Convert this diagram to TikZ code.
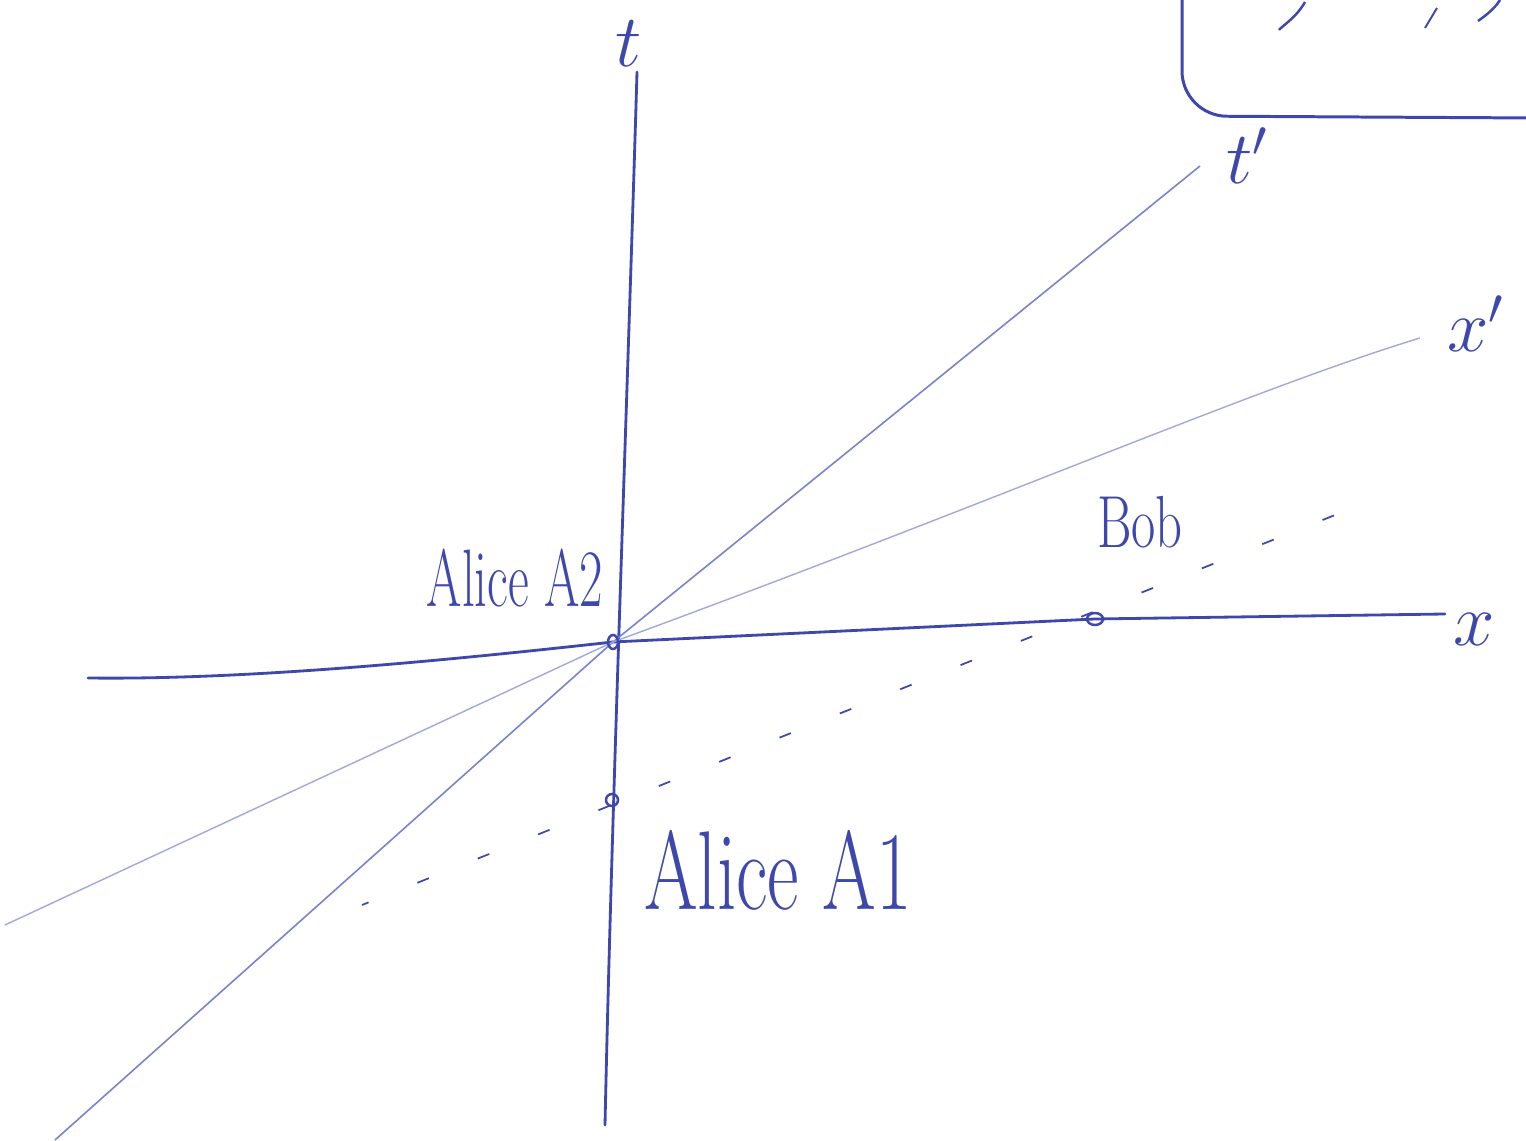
\documentclass[tikz,border=0pt]{standalone}
\usetikzlibrary{positioning}
\definecolor{ink}{RGB}{62,72,172}
\definecolor{inklight}{RGB}{120,130,205}
\definecolor{inkfaint}{RGB}{160,168,220}
\tikzset{
	axis/.style={ink, line width=1.6pt, line cap=round},
	boost/.style={inklight, line width=0.9pt},
	pen/.style={text=ink, inner sep=0pt},
	axislabel/.style={pen, font=\fontsize{24}{24}\selectfont, scale=1.7},
	event/.style={ink, line width=1.4pt},
}
\begin{document}
\begin{tikzpicture}[x=0.02cm, y=-0.02cm]
		\useasboundingbox (0,0) rectangle (1526,1141);
		
		% --- CÁC ĐIỂM CHÍNH ---
		\coordinate (O) at (613,642);
		\coordinate (A1) at (612,800);
		\coordinate (B) at (1095,619);
		
		% Đầu mút các trục
		\coordinate (tTop) at (637,72);
		\coordinate (tBot) at (605,1125);
		\coordinate (xL) at (88,678);
		\coordinate (xR) at (1445,614);
		\coordinate (tpL) at (55,1140);
		\coordinate (tpR) at (1200,166);
		\coordinate (xpL) at (5,925);
		\coordinate (xpR) at (1420,338);
		\coordinate (sL) at (362,905);
		\coordinate (sR) at (1355,507);
		
		% --- TRỤC t VÀ x ---
		\draw[axis] (tTop) .. controls (628,380) and (612,800) .. (tBot);
		\draw[axis] (xL) .. controls (250,680) and (450,660) .. (O) -- (B) -- (xR);
		
		% --- TRỤC t' VÀ x' (HỆ BOB) ---
		\draw[boost] (tpL) -- (O) -- (tpR);
		\draw[inkfaint, line width=0.8pt] (xpL) -- (O) .. controls (1000,500) and (1250,390) .. (xpR);
		
		% Đường đồng thời qua A1 và Bob
		\draw[ink, line width=1pt, dash pattern=on 7pt off 30pt, dash phase=3pt] (sL) -- (sR);
		
		% --- CÁC SỰ KIỆN ---
		\draw[event] (O) ellipse (5 and 7);
		\draw[event] (A1) circle (6);
		\draw[event] (B) ellipse (8 and 6);
		
		% --- NHÃN ---
		\node[axislabel] (t) at (629,44) {$t$};
		\node[axislabel] (tp) at (1247,156) {$t'$};
		\node[axislabel] (xp) at (1476,324) {$x'$};
		\node[axislabel] (x) at (1474,630) {$x$};
		\node[pen, font=\fontsize{29}{29}\selectfont, yscale=1.6] (alicetwo) at (515,578) {Alice A2};
		\node[pen, font=\fontsize{44}{44}\selectfont, yscale=1.45] (aliceone) at (778,870) {Alice A1};
		\node[pen, font=\fontsize{30}{30}\selectfont, yscale=1.4] (bob) at (1140,522) {Bob};
		
		% --- KHUNG GÓC TRÊN BÊN PHẢI ---
		\draw[ink, line width=1.7pt, rounded corners=0.9cm] (1182,-5) -- (1182,116) -- (1535,118);
		\draw[ink, line width=1.4pt] (1305,2) .. controls (1296,18) and (1282,26) .. (1279,30);
		\draw[ink, line width=1.1pt] (1437,8) -- (1425,28);
		\draw[ink, line width=1.4pt] (1500,0) .. controls (1494,10) and (1482,18) .. (1478,21);
		
	\end{tikzpicture}
\end{document}
